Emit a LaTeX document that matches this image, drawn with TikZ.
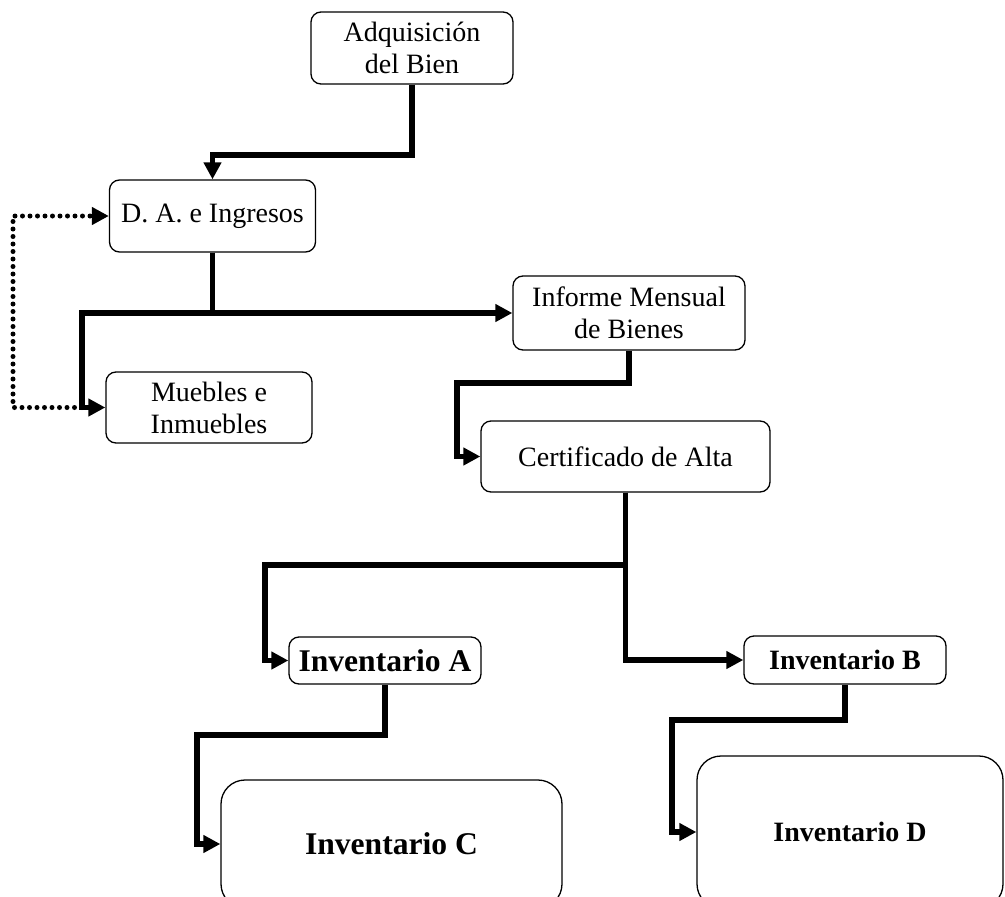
\documentclass[tikz,border=0pt]{standalone}
\usepackage{fontspec}
\setmainfont{Liberation Serif}
\usetikzlibrary{arrows.meta}
\begin{document}
\begin{tikzpicture}[x=1pt,y=-1pt,
  box/.style={draw, line width=1.3pt, rounded corners=10pt, align=center, inner sep=0pt,
    font=\fontsize{28}{32}\selectfont},
  bigbox/.style={box, rounded corners=24pt},
  conn/.style={line width=5.5pt, -{Triangle[length=17pt,width=17pt]}},
  dotconn/.style={line width=5pt, line cap=round, dash pattern=on 0pt off 7.5pt,
    -{Triangle[length=17pt,width=17pt]}}]
\useasboundingbox (0,0) rectangle (1005,897);
\node[box, minimum width=202pt, minimum height=72pt] (adq) at (412,48) {Adquisición\\del Bien};
\node[box, minimum width=206pt, minimum height=72pt] (da) at (212.5,216) {D. A. e Ingresos};
\node[box, minimum width=206pt, minimum height=71pt] (mue) at (209,407.5) {Muebles e\\Inmuebles};
\node[box, minimum width=232pt, minimum height=74pt] (inf) at (629,313) {Informe Mensual\\de Bienes};
\node[box, minimum width=289pt, minimum height=71pt] (cert) at (625.5,456.5) {Certificado de Alta};
\node[box, minimum width=192pt, minimum height=47pt, font=\fontsize{31.6}{36}\selectfont\bfseries] (invA) at (385,660.5) {Inventario A};
\node[box, minimum width=202pt, minimum height=48pt, font=\fontsize{28}{32}\selectfont\bfseries] (invB) at (845,660) {Inventario B};
\node[bigbox, minimum width=341pt, minimum height=128pt, font=\fontsize{31.6}{36}\selectfont\bfseries] (invC) at (391.5,844) {Inventario C};
\node[bigbox, minimum width=306pt, minimum height=152pt, font=\fontsize{28}{32}\selectfont\bfseries] (invD) at (850,832) {Inventario D};

\coordinate (c1) at (212.5,155);
\coordinate (j1) at (82,313);
\coordinate (j1b) at (82,407.5);
\coordinate (dl) at (13,407.5);
\coordinate (c2) at (457,383);
\coordinate (c3) at (625.5,565);
\coordinate (c4) at (265,565);
\coordinate (c5) at (197,735);
\coordinate (c6) at (672,720);

\draw[conn] (adq.south) |- (c1) -- (da.north);
\draw[conn] (da.south) |- (inf.west);
\draw[conn] (da.south) |- (j1) |- (mue.west);
\draw[dotconn] (j1b) -- (dl) |- (da.west);
\draw[conn] (inf.south) |- (c2) |- (cert.west);
\draw[conn] (cert.south) -- (c3) -- (c4) |- (invA.west);
\draw[conn] (cert.south) |- (invB.west);
\draw[conn] (invA.south) |- (c5) |- (invC.west);
\draw[conn] (invB.south) |- (c6) |- (invD.west);
\end{tikzpicture}
\end{document}
